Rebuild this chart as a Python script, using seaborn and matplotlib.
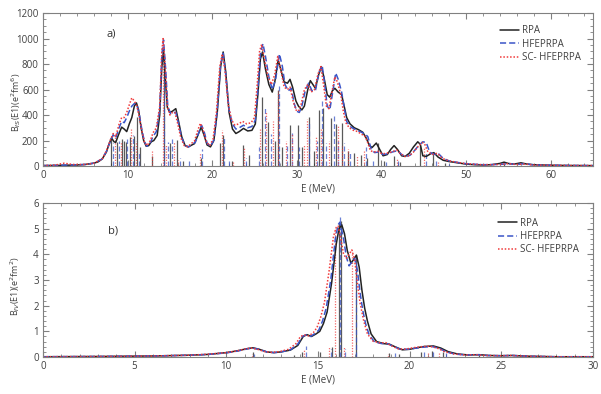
import matplotlib
matplotlib.use("Agg")
import matplotlib.pyplot as plt
from matplotlib.ticker import MultipleLocator
import seaborn as sns
import pandas as pd

# ---------------- panel a) isoscalar ----------------
a_rpa_e = [0, 2, 4, 5, 6, 6.5, 7.0, 7.5, 7.8, 8.1, 8.4, 8.6, 8.9, 9.3, 9.6, 9.9, 10.2, 10.5, 10.8, 11.05,
           11.3, 11.6, 11.9, 12.2, 12.5, 12.8, 13.1, 13.5, 13.8, 14.05, 14.25, 14.45, 14.7, 15.0, 15.3, 15.7,
           16.0, 16.4, 16.8, 17.2, 17.6, 17.9, 18.3, 18.7, 19.0, 19.4, 19.8, 20.2, 20.6, 21.0, 21.3, 21.6,
           22.0, 22.4, 22.8, 23.2, 23.7, 24.2, 24.7, 25.1, 25.4, 25.7, 25.95, 26.3, 26.7, 27.1, 27.4, 27.8,
           28.1, 28.5, 28.9, 29.2, 29.5, 29.9, 30.2, 30.6, 30.9, 31.3, 31.6, 31.9, 32.2, 32.6, 32.9, 33.2,
           33.6, 33.9, 34.2, 34.5, 34.9, 35.3, 35.6, 35.9, 36.3, 36.8, 37.3, 37.8, 38.2, 38.6, 38.9, 39.4,
           39.8, 40.2, 40.7, 41.1, 41.5, 41.9, 42.4, 42.8, 43.3, 43.8, 44.3, 44.6, 44.9, 45.3, 45.8, 46.2,
           46.7, 47.3, 48, 49, 50, 51, 52, 53, 54, 54.5, 55, 55.7, 56.5, 57.2, 58, 59, 60, 62, 65]
a_rpa_b = [3, 5, 8, 12, 22, 32, 55, 110, 170, 220, 190, 185, 240, 305, 290, 270, 330, 380, 470, 495,
           440, 300, 200, 155, 160, 190, 200, 240, 400, 780, 910, 700, 460, 420, 430, 450,
           360, 230, 160, 150, 165, 175, 240, 305, 250, 165, 150, 200, 420, 780, 895, 740,
           420, 290, 255, 270, 295, 275, 280, 330, 560, 840, 895, 760, 640, 580, 660, 830,
           760, 660, 650, 680, 620, 510, 470, 440, 470, 600, 670, 640, 610, 720, 780, 700,
           560, 540, 590, 610, 580, 560, 470, 380, 330, 300, 285, 265, 220, 160, 145, 180,
           130, 80, 90, 130, 160, 130, 80, 75, 100, 150, 190, 170, 80, 75, 95, 105,
           70, 45, 35, 25, 15, 10, 8, 10, 20, 30, 20, 15, 25, 15, 10, 8, 6, 4, 3]

a_hfe_e = [0, 2, 4, 5, 6, 7, 7.5, 8.0, 8.3, 8.6, 9.0, 9.3, 9.6, 9.9, 10.2, 10.5, 10.8, 11.1, 11.4, 11.7,
           12.0, 12.3, 12.7, 13.0, 13.4, 13.8, 14.05, 14.25, 14.5, 14.75, 15.1, 15.4, 15.7, 16.0, 16.4,
           16.8, 17.2, 17.6, 18.0, 18.4, 18.75, 19.05, 19.4, 19.8, 20.2, 20.6, 21.0, 21.3, 21.6, 22.0,
           22.4, 22.8, 23.2, 23.7, 24.2, 24.7, 25.1, 25.4, 25.7, 26.0, 26.3, 26.7, 27.1, 27.5, 27.95,
           28.3, 28.6, 29.0, 29.35, 29.7, 30.0, 30.3, 30.6, 31.0, 31.4, 31.8, 32.2, 32.6, 33.0, 33.3,
           33.6, 33.9, 34.2, 34.6, 34.9, 35.3, 35.6, 35.9, 36.3, 36.8, 37.3, 37.8, 38.1, 38.4, 38.8,
           39.2, 39.7, 40.2, 40.7, 41.3, 41.9, 42.4, 42.9, 43.4, 43.9, 44.4, 44.9, 45.3, 45.7, 46.2,
           46.7, 47.3, 48, 49, 50, 52, 54, 55, 56, 57, 58, 60, 62, 65]
a_hfe_b = [3, 6, 9, 12, 22, 55, 115, 200, 245, 220, 300, 350, 340, 380, 430, 470, 490, 480, 400, 280,
           190, 155, 185, 230, 270, 440, 870, 990, 760, 470, 410, 420, 420, 340, 220,
           160, 150, 170, 185, 260, 320, 270, 180, 155, 205, 440, 800, 885, 720, 440,
           330, 290, 300, 320, 300, 310, 360, 600, 880, 960, 860, 700, 600, 680, 880,
           780, 640, 590, 610, 490, 430, 420, 470, 590, 650, 590, 590, 730, 790, 640,
           470, 440, 560, 730, 680, 580, 460, 350, 310, 290, 275, 260, 250, 230, 130,
           105, 110, 90, 95, 110, 120, 90, 75, 85, 120, 160, 190, 185, 110, 90,
           100, 60, 40, 28, 18, 10, 12, 18, 12, 18, 8, 6, 4, 3]

a_sc_e = [0, 1.5, 2.5, 3.5, 5, 6, 7, 7.5, 8.0, 8.3, 8.6, 9.0, 9.3, 9.6, 9.9, 10.2, 10.5, 10.8, 11.1, 11.4,
          11.7, 12.0, 12.3, 12.7, 13.0, 13.4, 13.8, 14.05, 14.2, 14.45, 14.7, 15.0, 15.3, 15.6, 15.9,
          16.3, 16.7, 17.1, 17.5, 17.9, 18.3, 18.6, 18.9, 19.3, 19.7, 20.1, 20.5, 20.9, 21.2, 21.5,
          21.9, 22.3, 22.7, 23.1, 23.6, 24.1, 24.6, 25.0, 25.3, 25.6, 25.85, 26.2, 26.6, 27.0, 27.4,
          27.75, 28.1, 28.5, 28.9, 29.2, 29.6, 29.9, 30.2, 30.5, 30.9, 31.3, 31.7, 32.1, 32.5, 32.85,
          33.2, 33.5, 33.8, 34.1, 34.5, 34.8, 35.2, 35.5, 35.8, 36.2, 36.7, 37.2, 37.6, 38.0, 38.3,
          38.7, 39.1, 39.6, 40.1, 40.6, 41.2, 41.8, 42.3, 42.8, 43.3, 43.8, 44.3, 44.8, 45.1, 45.5,
          46.0, 46.6, 47.2, 48, 49, 50, 52, 54, 55, 56, 57, 58, 60, 62, 65]
a_sc_b = [3, 8, 22, 12, 12, 22, 55, 120, 210, 255, 230, 330, 380, 380, 420, 480, 535, 510, 470, 380,
          270, 185, 160, 200, 260, 300, 470, 900, 1000, 780, 470, 400, 420, 420, 340,
          220, 160, 150, 175, 195, 280, 335, 290, 190, 160, 210, 420, 780, 880, 760,
          480, 360, 320, 330, 350, 330, 340, 380, 620, 900, 955, 830, 700, 640, 720,
          860, 760, 620, 600, 620, 500, 440, 430, 480, 600, 640, 580, 600, 720, 780,
          620, 470, 450, 560, 700, 660, 560, 430, 340, 300, 280, 270, 250, 240, 200,
          120, 110, 115, 95, 100, 110, 125, 95, 75, 80, 110, 150, 185, 175, 110,
          90, 100, 60, 40, 28, 18, 10, 12, 18, 12, 15, 8, 6, 4, 3]

# discrete transitions (sticks)
a_rpa_stick_e = [8.1, 8.8, 9.3, 9.6, 9.8, 10.3, 10.8, 11.1, 11.5, 12.9, 14.25, 15.0, 15.8, 16.5, 18.7,
                 20.9, 21.3, 22.3, 23.6, 24.3, 25.85, 26.6, 27.4, 27.8, 28.3, 29.2, 30.1, 30.6, 31.4,
                 32.0, 32.6, 33.1, 34.0, 34.6, 35.3, 36.0, 36.8, 37.6, 38.3, 39.6, 40.3, 41.5, 42.2,
                 44.6, 46.1, 47.5, 54.5, 56.5]
a_rpa_stick_b = [220, 185, 215, 200, 190, 225, 235, 385, 150, 75, 860, 180, 205, 40, 60,
                 180, 240, 40, 165, 90, 545, 345, 200, 600, 150, 320, 320, 150, 385,
                 120, 440, 455, 375, 330, 340, 120, 100, 90, 60, 180, 40, 75, 30,
                 165, 100, 20, 15, 10]
a_hfe_stick_e = [8.3, 9.0, 9.9, 10.6, 11.3, 14.3, 14.8, 15.3, 16.2, 17.3, 18.8, 21.4, 22.0, 24.0, 25.5,
                 26.2, 27.0, 27.9, 28.8, 29.4, 30.3, 31.5, 32.4, 33.0, 33.5, 34.4, 34.9, 35.6, 36.3,
                 38.2, 39.0, 40.6, 42.0, 45.3, 46.5, 48.0]
a_hfe_stick_b = [180, 200, 210, 240, 120, 860, 190, 210, 60, 45, 130, 220, 50, 60, 150,
                 470, 250, 640, 170, 260, 150, 350, 200, 520, 180, 400, 200, 180, 110,
                 150, 40, 30, 40, 120, 40, 15]
a_sc_stick_e = [8.5, 9.2, 10.4, 11.0, 12.9, 14.2, 14.6, 15.5, 16.0, 18.6, 21.2, 22.5, 23.8, 25.6, 26.4,
                27.2, 27.75, 28.7, 29.4, 30.8, 31.2, 32.3, 32.9, 33.8, 34.9, 35.4, 36.1, 37.1, 38.0,
                41.9, 45.0, 46.7]
a_sc_stick_b = [240, 190, 300, 200, 120, 990, 170, 190, 50, 100, 280, 40, 140, 300, 430,
                350, 590, 200, 260, 170, 370, 230, 300, 200, 320, 160, 130, 80, 120,
                60, 140, 35]

# ---------------- panel b) isovector ----------------
b_rpa_e = [0, 3, 6, 8, 9, 10, 10.6, 11.1, 11.45, 11.8, 12.2, 12.6, 13.0, 13.5, 13.9, 14.2, 14.4, 14.65,
           14.9, 15.1, 15.3, 15.5, 15.75, 16.0, 16.15, 16.3, 16.45, 16.6, 16.8, 16.95, 17.1, 17.25, 17.4,
           17.55, 17.7, 17.9, 18.2, 18.6, 18.9, 19.2, 19.6, 20.0, 20.4, 20.8, 21.3, 21.7, 22.1, 22.6,
           23.2, 23.8, 24.3, 25, 25.6, 26.5, 28, 30]
b_rpa_b = [0.01, 0.02, 0.04, 0.07, 0.1, 0.17, 0.24, 0.32, 0.36, 0.3, 0.2, 0.17, 0.2, 0.27, 0.45, 0.8, 0.87, 0.8,
           0.9, 1.0, 1.3, 1.75, 2.9, 4.4, 5.0, 5.15, 4.8, 4.15, 3.65, 3.8, 3.97, 3.5, 2.6,
           1.9, 1.4, 0.9, 0.6, 0.52, 0.5, 0.4, 0.28, 0.3, 0.36, 0.41, 0.43, 0.35, 0.21, 0.12,
           0.08, 0.09, 0.06, 0.05, 0.06, 0.03, 0.01, 0.01]

b_hfe_e = [0, 3, 6, 8, 9, 10, 10.6, 11.1, 11.4, 11.8, 12.2, 12.6, 13.0, 13.5, 13.9, 14.15, 14.35, 14.6,
           14.85, 15.05, 15.25, 15.45, 15.7, 15.95, 16.1, 16.2, 16.4, 16.55, 16.7, 16.85, 17.0, 17.15,
           17.3, 17.45, 17.6, 17.8, 18.1, 18.5, 18.8, 19.1, 19.5, 19.9, 20.3, 20.7, 21.2, 21.6, 22.0,
           22.5, 23.1, 23.7, 24.2, 25, 25.6, 26.5, 28, 30]
b_hfe_b = [0.01, 0.02, 0.04, 0.07, 0.1, 0.16, 0.23, 0.31, 0.35, 0.3, 0.2, 0.17, 0.2, 0.28, 0.5, 0.8, 0.86, 0.8,
           0.92, 1.05, 1.4, 1.9, 3.0, 4.6, 5.15, 5.25, 4.6, 3.9, 3.55, 3.7, 3.84, 3.4,
           2.5, 1.8, 1.3, 0.85, 0.58, 0.52, 0.52, 0.42, 0.3, 0.3, 0.34, 0.38, 0.41, 0.34, 0.2,
           0.11, 0.08, 0.09, 0.06, 0.05, 0.06, 0.03, 0.01, 0.01]

b_sc_e = [0, 3, 6, 8, 9, 10, 10.6, 11.0, 11.35, 11.7, 12.1, 12.5, 12.9, 13.4, 13.8, 14.05, 14.25, 14.5,
          14.75, 14.95, 15.15, 15.35, 15.6, 15.85, 16.0, 16.1, 16.25, 16.4, 16.55, 16.7, 16.85, 17.0,
          17.15, 17.3, 17.5, 17.7, 18.0, 18.4, 18.7, 19.0, 19.4, 19.8, 20.2, 20.6, 21.1, 21.5, 21.9,
          22.4, 23.0, 23.6, 24.1, 25, 25.5, 26.5, 28, 30]
b_sc_b = [0.01, 0.02, 0.04, 0.07, 0.11, 0.17, 0.24, 0.31, 0.35, 0.3, 0.21, 0.18, 0.21, 0.3, 0.52, 0.8, 0.86, 0.82,
          0.95, 1.15, 1.55, 2.1, 3.3, 4.7, 5.05, 5.1, 4.6, 4.0, 3.84, 4.0, 4.17, 3.8,
          2.9, 2.1, 1.4, 0.9, 0.62, 0.55, 0.56, 0.44, 0.31, 0.31, 0.36, 0.4, 0.42, 0.35, 0.21,
          0.12, 0.08, 0.09, 0.06, 0.05, 0.06, 0.03, 0.01, 0.01]

b_rpa_stick_e = [11.45, 13.7, 14.15, 15.1, 15.75, 16.15, 16.25, 17.08, 18.9, 19.4, 20.6, 21.2, 21.8, 23.8]
b_rpa_stick_b = [0.2, 0.06, 0.2, 0.2, 0.4, 5.2, 5.3, 3.97, 0.15, 0.12, 0.2, 0.25, 0.2, 0.08]
b_hfe_stick_e = [11.5, 14.35, 15.7, 16.2, 16.5, 17.05, 19.2, 20.8, 21.3, 22.0]
b_hfe_stick_b = [0.1, 0.42, 0.3, 5.55, 0.3, 3.84, 0.15, 0.2, 0.25, 0.15]
b_sc_stick_e = [11.4, 14.25, 15.6, 15.95, 16.4, 16.85, 18.8, 21.0, 21.6]
b_sc_stick_b = [0.12, 0.3, 0.4, 5.0, 0.4, 4.1, 0.12, 0.15, 0.2]

labels = ["RPA", "HFEPRPA", "SC- HFEPRPA"]

sns.set_theme(style="ticks")
plt.rcParams["font.family"] = ["Open Sans", "DejaVu Sans"]
plt.rcParams["axes.edgecolor"] = "#808080"
plt.rcParams["xtick.color"] = "#808080"
plt.rcParams["ytick.color"] = "#808080"
plt.rcParams["xtick.labelcolor"] = "#404040"
plt.rcParams["ytick.labelcolor"] = "#404040"

colors = ["#222222", "#3a55c8", "#f03a3a"]
styles = ["-", (0, (4, 2)), (0, (1, 1.2))]

fig = plt.figure(figsize=(6.01, 3.94), dpi=100)
ax1 = fig.add_axes([0.0715, 0.5787, 0.915, 0.388])
ax2 = fig.add_axes([0.0715, 0.0939, 0.915, 0.391])


def draw_panel(ax, curves, sticks, leg_anchor):
    # sticks first so the curves sit on top
    for (se, sb), c, ls in zip(sticks, colors, styles):
        ax.vlines(se, 0, sb, colors=c, linestyles=ls, linewidth=0.9, alpha=0.75)
    for (ce, cb), c, ls, lab in zip(curves, colors, styles, labels):
        df = pd.DataFrame({"E": ce, "B": cb})
        sns.lineplot(data=df, x="E", y="B", ax=ax, color=c, linestyle=ls,
                     linewidth=1.1, label=lab, sort=False)
    ax.legend(loc="upper left", frameon=False, fontsize=7, handlelength=2.0,
              handletextpad=0.3, labelspacing=0.25, borderaxespad=0,
              bbox_to_anchor=leg_anchor, labelcolor="#404040")
    ax.tick_params(which="both", direction="in", top=True, right=True, labelsize=7, pad=3)
    ax.tick_params(which="major", length=4, width=0.8)
    ax.tick_params(which="minor", length=2, width=0.6)
    for s in ax.spines.values():
        s.set_linewidth(0.8)
    ax.set_xlabel("E (MeV)", fontsize=7, color="#404040", labelpad=2)


draw_panel(ax1,
           [(a_rpa_e, a_rpa_b), (a_hfe_e, a_hfe_b), (a_sc_e, a_sc_b)],
           [(a_rpa_stick_e, a_rpa_stick_b), (a_hfe_stick_e, a_hfe_stick_b), (a_sc_stick_e, a_sc_stick_b)],
           (0.824, 0.945))
ax1.set_xlim(0, 65)
ax1.set_ylim(0, 1200)
ax1.xaxis.set_major_locator(MultipleLocator(10))
ax1.xaxis.set_minor_locator(MultipleLocator(2))
ax1.yaxis.set_major_locator(MultipleLocator(200))
ax1.yaxis.set_minor_locator(MultipleLocator(50))
ax1.set_ylabel("B$_{IS}$(E1)(e$^2$fm$^6$)", fontsize=6.5, color="#404040")
ax1.yaxis.set_label_coords(-0.036, 0.42)
ax1.text(0.116, 0.85, "a)", transform=ax1.transAxes, fontsize=8, color="#333333")

draw_panel(ax2,
           [(b_rpa_e, b_rpa_b), (b_hfe_e, b_hfe_b), (b_sc_e, b_sc_b)],
           [(b_rpa_stick_e, b_rpa_stick_b), (b_hfe_stick_e, b_hfe_stick_b), (b_sc_stick_e, b_sc_stick_b)],
           (0.82, 0.93))
ax2.set_xlim(0, 30)
ax2.set_ylim(0, 6)
ax2.xaxis.set_major_locator(MultipleLocator(5))
ax2.xaxis.set_minor_locator(MultipleLocator(1))
ax2.yaxis.set_major_locator(MultipleLocator(1))
ax2.yaxis.set_minor_locator(MultipleLocator(0.2))
ax2.set_ylabel("B$_{IV}$(E1)(e$^2$fm$^2$)", fontsize=6.5, color="#404040")
ax2.yaxis.set_label_coords(-0.038, 0.46)
ax2.text(0.118, 0.80, "b)", transform=ax2.transAxes, fontsize=8, color="#333333")

fig.savefig("out.png", dpi=100)
